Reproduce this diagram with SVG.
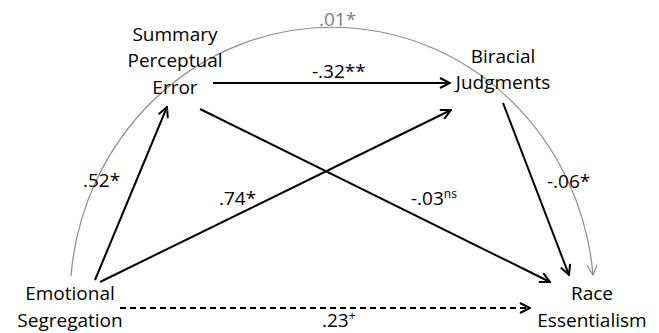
<svg xmlns="http://www.w3.org/2000/svg" width="659" height="333" viewBox="0 0 659 333">
<defs>
<style>
text{font-family:"Open Sans","Noto Sans","DejaVu Sans",sans-serif;font-size:19px;fill:#000;}
.n{text-anchor:middle;}
.gl{fill:#7f7f7f;}
.e{stroke:#000;stroke-width:2;fill:none;marker-end:url(#ah);}
.d{stroke-dasharray:6 4;}
.g{stroke:#8c8c8c;stroke-width:1.2;fill:none;marker-end:url(#ag);}
</style>
<marker id="ah" viewBox="0 0 12 12" refX="11" refY="6" markerWidth="12" markerHeight="12" markerUnits="userSpaceOnUse" orient="auto">
<path d="M1,1 L11,6 L1,11" fill="none" stroke="#000" stroke-width="2"/>
</marker>
<marker id="ag" viewBox="0 0 12 12" refX="11" refY="6" markerWidth="12" markerHeight="12" markerUnits="userSpaceOnUse" orient="auto">
<path d="M1,1 L11,6 L1,11" fill="none" stroke="#8c8c8c" stroke-width="1.2"/>
</marker>
</defs>
<rect width="659" height="333" fill="#fff"/>
<g id="connectors">
<path class="g" d="M71,276 A262,272 0 0 1 593,275"/>
<line class="e" x1="213" y1="83" x2="450" y2="83"/>
<line class="e" x1="200" y1="109" x2="550" y2="282"/>
<line class="e" x1="95" y1="280" x2="167" y2="107"/>
<line class="e" x1="100" y1="282" x2="451" y2="110"/>
<line class="e" x1="503" y1="103" x2="569" y2="275"/>
<line class="e d" x1="120" y1="308" x2="530" y2="308"/>
<text class="gl" x="319" y="26">.01*</text>
<text x="312" y="78">-.32**</text>
<text x="83" y="187">.52*</text>
<text x="219" y="205">.74*</text>
<text x="411" y="205">-.03<tspan font-size="12" dy="-7">ns</tspan></text>
<text x="547" y="188">-.06*</text>
<text x="322" y="327">.23<tspan font-size="12" dy="-7">+</tspan></text>
</g>
<g id="node-spe">
<text class="n" x="175" y="41">Summary</text>
<text class="n" x="175" y="67">Perceptual</text>
<text class="n" x="175" y="94">Error</text>
</g>
<g id="node-bj">
<text class="n" x="503" y="63">Biracial</text>
<text class="n" x="503" y="89">Judgments</text>
</g>
<g id="node-es">
<text class="n" x="70" y="300">Emotional</text>
<text class="n" x="70" y="327">Segregation</text>
</g>
<g id="node-re">
<text class="n" x="592" y="300">Race</text>
<text class="n" x="592" y="327">Essentialism</text>
</g>
</svg>
